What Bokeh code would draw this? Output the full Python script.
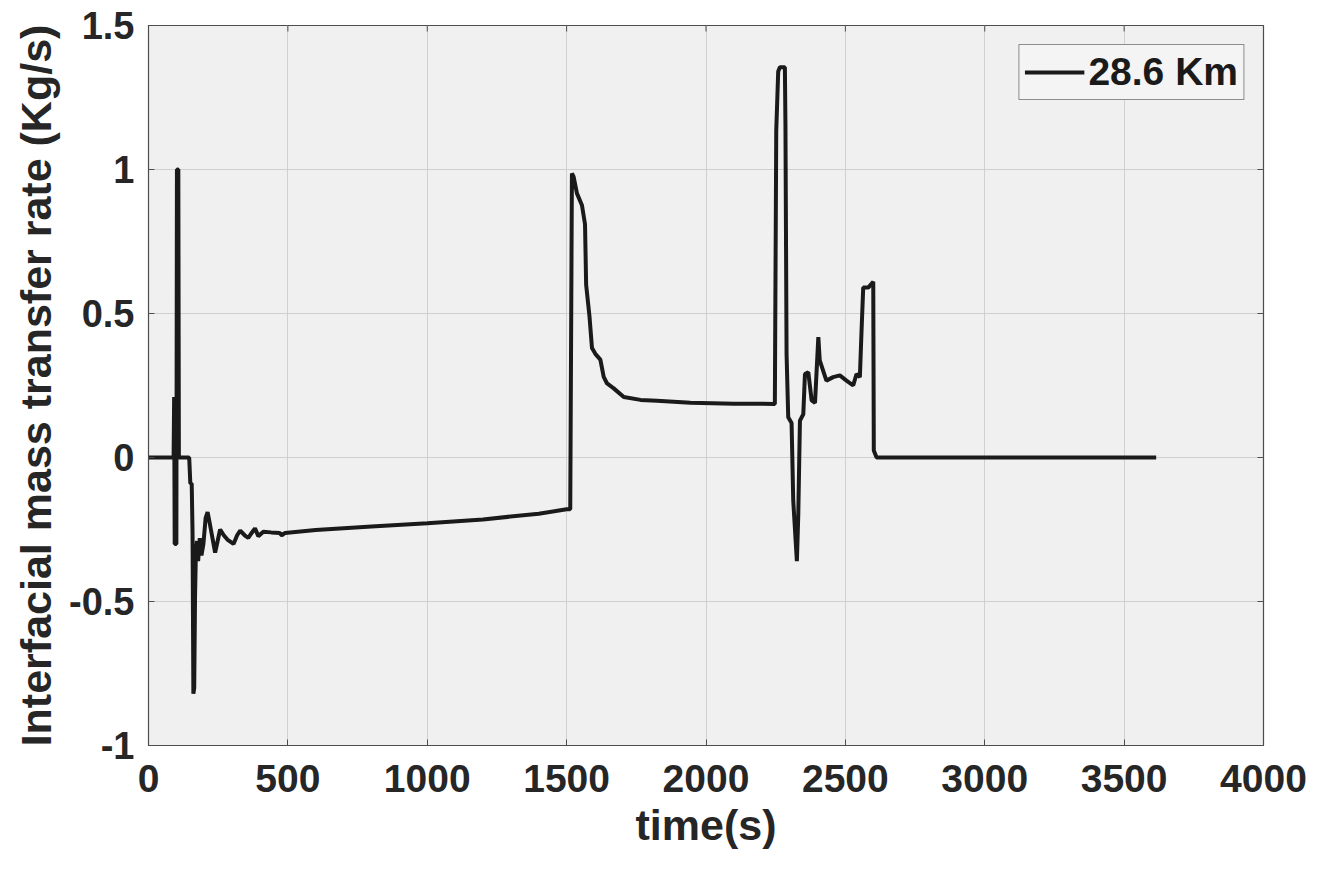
from math import pi
from bokeh.plotting import figure
from bokeh.models import Range1d, FixedTicker
from bokeh.embed import file_html
from bokeh.resources import INLINE

# ---- data ----
time_s = [0, 90, 92, 94, 100, 102, 107, 109, 146, 150, 155, 158, 161, 164, 167, 170,
          174, 178, 184, 190, 197, 205, 212, 220, 239, 248, 257, 270, 283, 305, 318,
          329, 345, 358, 370, 382, 394, 412, 440, 470, 478, 490, 600, 800, 1000, 1200,
          1400, 1500, 1513, 1519, 1525, 1537, 1555, 1566, 1570, 1582, 1591, 1603, 1621,
          1633, 1645, 1669, 1705, 1765, 1824, 1944, 2100, 2247, 2252, 2259, 2265, 2283,
          2285, 2289, 2295, 2307, 2313, 2326, 2331, 2337, 2349, 2355, 2367, 2379, 2391,
          2403, 2408, 2432, 2456, 2480, 2504, 2528, 2540, 2552, 2558, 2564, 2582, 2600,
          2602, 2612, 3615]
mass_rate = [0, 0, 0.21, -0.30, -0.30, 1.0, 1.0, 0, 0, -0.09, -0.09, -0.26, -0.82, -0.80,
             -0.48, -0.33, -0.29, -0.36, -0.28, -0.34, -0.30, -0.21, -0.19, -0.23, -0.33,
             -0.29, -0.25, -0.27, -0.285, -0.30, -0.27, -0.254, -0.27, -0.279, -0.262,
             -0.246, -0.273, -0.258, -0.26, -0.262, -0.27, -0.262, -0.252, -0.24, -0.228,
             -0.215, -0.195, -0.18, -0.18, 0.986, 0.975, 0.917, 0.876, 0.81, 0.60, 0.49,
             0.38, 0.36, 0.34, 0.28, 0.257, 0.24, 0.21, 0.20, 0.197, 0.19, 0.187, 0.186,
             1.135, 1.34, 1.355, 1.355, 1.16, 0.36, 0.14, 0.12, -0.15, -0.36, -0.20, 0.128,
             0.15, 0.29, 0.296, 0.198, 0.19, 0.418, 0.337, 0.267, 0.279, 0.285, 0.267,
             0.25, 0.29, 0.279, 0.44, 0.59, 0.59, 0.61, 0.024, 0.0, 0.0]
series_label = "28.6 Km"
x_ticks = [0, 500, 1000, 1500, 2000, 2500, 3000, 3500, 4000]
y_ticks = [-1, -0.5, 0, 0.5, 1, 1.5]
y_tick_labels = {-1: "-1", -0.5: "-0.5", 0: "0", 0.5: "0.5", 1: "1", 1.5: "1.5"}
x_min, x_max = 0, 4000
y_min, y_max = -1, 1.5

FONT = "Liberation Sans"
TXT = "#262626"
AXC = "#4d4d4d"

p = figure(width=1327, height=872, output_backend="svg", toolbar_location=None,
           x_range=Range1d(x_min, x_max), y_range=Range1d(y_min, y_max),
           min_border_left=148, min_border_right=64, min_border_top=25,
           min_border_bottom=127)
p.background_fill_color = "#f0f0f0"
p.border_fill_color = "white"
p.outline_line_color = AXC
p.outline_line_width = 1.2

p.grid.grid_line_color = "#d0d0d0"
p.grid.grid_line_width = 1
p.xgrid.ticker = FixedTicker(ticks=x_ticks)
p.ygrid.ticker = FixedTicker(ticks=y_ticks)

# tick marks on the top and right edges of the box (clipped to the frame)
p.scatter(x_ticks, [y_max] * len(x_ticks), marker="dash", angle=pi / 2, size=12,
          line_color=AXC, line_width=1)
p.scatter([x_max] * len(y_ticks), y_ticks, marker="dash", size=12,
          line_color=AXC, line_width=1)

p.line(time_s, mass_rate, line_color="#1a1a1a", line_width=4, legend_label=series_label)

for ax in (p.xaxis[0], p.yaxis[0]):
    ax.major_label_text_font = FONT
    ax.major_label_text_font_style = "bold"
    ax.major_label_text_color = TXT
    ax.axis_label_text_font = FONT
    ax.axis_label_text_font_style = "bold"
    ax.axis_label_text_font_size = "43px"
    ax.axis_label_text_color = TXT
    ax.major_tick_in = 6
    ax.major_tick_out = 0
    ax.minor_tick_line_color = None
    ax.axis_line_color = AXC
    ax.major_tick_line_color = AXC

p.xaxis[0].major_label_text_font_size = "39px"
p.yaxis[0].major_label_text_font_size = "38px"
p.xaxis[0].ticker = FixedTicker(ticks=x_ticks)
p.yaxis[0].ticker = FixedTicker(ticks=y_ticks)
p.yaxis[0].major_label_overrides = y_tick_labels
p.xaxis[0].axis_label = "time(s)"
p.yaxis[0].axis_label = "Interfacial mass transfer rate (Kg/s)"
p.xaxis[0].major_label_standoff = 19
p.xaxis[0].axis_label_standoff = 6
p.yaxis[0].major_label_standoff = 14
p.yaxis[0].axis_label_standoff = 6

lg = p.legend[0]
lg.location = "top_right"
lg.margin = 19
lg.label_text_font = FONT
lg.label_text_font_style = "bold"
lg.label_text_font_size = "39px"
lg.label_text_color = "#1a1a1a"
lg.glyph_width = 60
lg.glyph_height = 40
lg.label_standoff = 4
lg.padding = 5
lg.border_line_color = "#262626"
lg.border_line_width = 1.2
lg.background_fill_color = "#f4f4f4"
lg.background_fill_alpha = 1

open("out.html", "w").write(file_html(p, INLINE))
